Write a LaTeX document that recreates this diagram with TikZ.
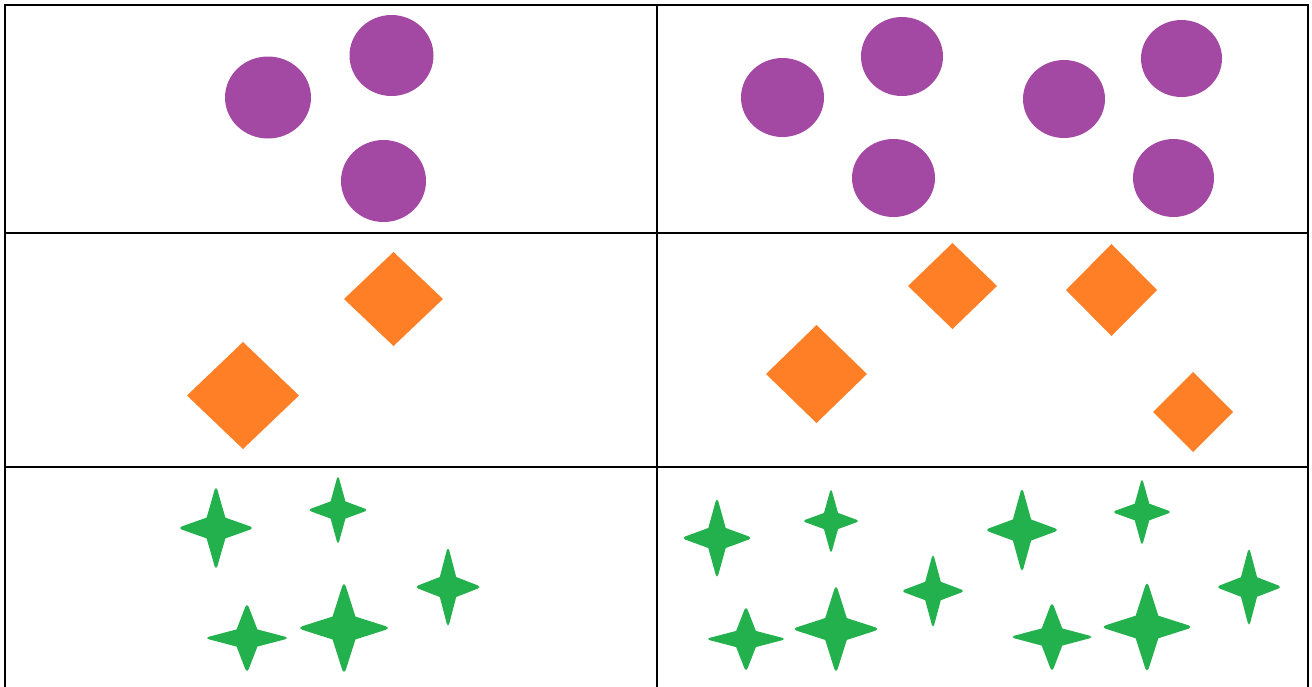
\documentclass[tikz,border=0pt]{standalone}
\usepackage{tikz}
\definecolor{cpurple}{HTML}{A349A4}
\definecolor{corange}{HTML}{FF7F27}
\definecolor{cgreen}{HTML}{22B14C}
\tikzset{
  gridline/.style={draw=black, line width=2.5pt, line cap=rect},
  dotfill/.style={fill=cpurple},
  gemfill/.style={fill=corange},
  sparkfill/.style={fill=cgreen}
}
\newcommand\mydot[4]{\fill[dotfill] (#1,#2) ellipse [x radius=#3, y radius=#4];}
\newcommand\mygem[4]{\fill[gemfill] (#1-#3,#2) -- (#1,#2-#4) -- (#1+#3,#2) -- (#1,#2+#4) -- cycle;}
\newcommand\myspark[4]{\fill[sparkfill, shift={(#1,#2)}, xscale=#3, yscale=#4]
  (0,-1) -- (0.04,-0.95) -- (0.26,-0.26) -- (0.95,-0.04) -- (1,0) -- (0.95,0.04) -- (0.26,0.26) -- (0.04,0.95) -- (0,1) -- (-0.04,0.95) -- (-0.26,0.26) -- (-0.95,0.04) -- (-1,0) -- (-0.95,-0.04) -- (-0.26,-0.26) -- (-0.04,-0.95) -- cycle;}
\begin{document}
\begin{tikzpicture}[x=1pt,y=-1pt]
\useasboundingbox (0,0) rectangle (1312,686);
% grid
\draw[gridline] (5,690) -- (5,5) -- (1308,5) -- (1308,690);
\draw[gridline] (657,5) -- (657,690);
\draw[gridline] (5,233) -- (1308,233);
\draw[gridline] (5,467) -- (1308,467);
% circles
\mydot{268}{97.5}{43}{41}
\mydot{391.5}{55.5}{42}{40.5}
\mydot{383.5}{181}{42.5}{41}
\mydot{782.5}{97.5}{41.5}{39.5}
\mydot{902}{56.5}{41}{39.5}
\mydot{893.5}{178}{41.5}{39}
\mydot{1064}{99}{41}{39}
\mydot{1181.5}{58.5}{40.5}{38.5}
\mydot{1173.5}{178}{40.5}{39}
% diamonds
\mygem{243}{395.5}{56}{53.5}
\mygem{393.5}{299}{49.5}{47}
\mygem{816.5}{374}{50.5}{49}
\mygem{952.5}{286}{44.5}{43}
\mygem{1111.5}{290}{45.5}{46}
\mygem{1193}{412}{40}{40}
% stars
\myspark{216}{528}{36}{40}
\myspark{338}{510}{28.5}{33}
\myspark{448}{587}{31.5}{38.5}
\myspark{247}{638}{40}{33}
\myspark{344}{628}{44}{44}
\myspark{717}{538}{33.5}{38.5}
\myspark{831}{521}{27}{31}
\myspark{746}{639}{38}{31}
\myspark{836}{629}{41.5}{42}
\myspark{933}{591}{30}{35.5}
\myspark{1022}{530}{35}{40.5}
\myspark{1142}{512}{28}{32}
\myspark{1052}{637}{39.5}{33}
\myspark{1147}{627}{43.5}{43.5}
\myspark{1249}{587}{31}{37.5}
\end{tikzpicture}
\end{document}
